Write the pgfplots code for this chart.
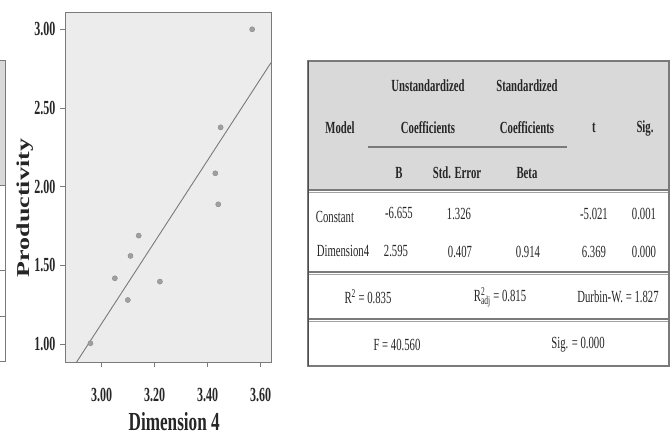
\documentclass[border=0pt]{standalone}
\usepackage{fontspec}
\setmainfont{Liberation Serif}[FakeStretch=0.66]
\newfontfamily\ylabfont{Liberation Serif}
\newfontfamily\tickfont{Liberation Serif}[FakeStretch=0.6]
\newfontfamily\tabfont{Liberation Serif}[FakeStretch=0.63]
\usepackage{graphicx}
\usepackage{pgfplots}
\pgfplotsset{compat=1.18}
\definecolor{plotbg}{HTML}{ECECEC}
\definecolor{hdrbg}{HTML}{D9D9D9}
\definecolor{ptc}{HTML}{A0A0A0}
\definecolor{frm}{HTML}{7A7A7A}
\newcommand{\tf}{\tabfont\fontsize{17}{19}\selectfont}
\begin{document}
\begin{tikzpicture}[x=1pt,y=1pt]
\useasboundingbox (0,0) rectangle (671,441);
% partial table at the left edge
\fill[hdrbg] (-2,380) rectangle (5,255);
\draw[frm, line width=1pt] (-2,380) -- (5,380) -- (5,79) -- (-2,79);
\draw[frm, line width=1pt] (-2,255) -- (5,255);
\draw[frm, line width=1pt] (-2,170) -- (5,170);
\draw[frm, line width=1pt] (-2,124) -- (5,124);
\begin{axis}[
  at={(65pt,79pt)}, anchor=south west, scale only axis,
  width=206pt, height=350pt,
  xmin=2.862, xmax=3.639, ymin=0.886, ymax=3.11,
  axis background/.style={fill=plotbg},
  axis line style={frm, line width=0.8pt},
  xtick={3.0,3.2,3.4,3.6}, xticklabels={3.00,3.20,3.40,3.60},
  ytick={1,1.5,2,2.5,3}, yticklabels={1.00,1.50,2.00,2.50,3.00},
  tick align=outside, major tick length=5pt,
  tick style={frm, line width=0.8pt},
  xtick pos=bottom, ytick pos=left,
  ticklabel style={font=\tickfont\fontsize{20}{22}\selectfont\bfseries, text=black!85},
  xticklabel style={yshift=-18pt},
  yticklabel style={xshift=-1pt},
  xlabel={Dimension 4},
  xlabel style={font=\fontsize{26}{28}\selectfont\bfseries, text=black!85, at={(axis description cs:0.53,-0.171)}, anchor=center},
  ylabel={\scalebox{1}[0.7]{Productivity}},
  ylabel style={font=\ylabfont\fontsize{26}{28}\selectfont\bfseries, text=black!85, at={(axis description cs:-0.195,0.44)}, anchor=center},
]
\addplot[only marks, mark=*, mark size=2.6pt, mark options={fill=ptc, draw=ptc!80!black, line width=0.3pt}] coordinates {
(3.568,3.00) (3.449,2.377) (3.429,2.085) (3.440,1.888) (3.140,1.689)
(3.109,1.560) (3.050,1.418) (3.099,1.280) (3.220,1.397) (2.958,1.005)
};
\addplot[frm, line width=0.9pt] coordinates {(2.862,0.772) (3.639,2.788)};
\end{axis}
% regression table
\fill[hdrbg] (308,380) rectangle (669,251);
\draw[frm, line width=1.6pt] (308,251) -- (669,251);
\draw[frm!70, line width=0.6pt] (308,248.5) -- (669,248.5);
\draw[frm, line width=1.6pt] (308,169) -- (669,169);
\draw[frm!70, line width=0.6pt] (308,166.5) -- (669,166.5);
\draw[frm, line width=1.6pt] (308,122) -- (669,122);
\draw[frm!70, line width=0.6pt] (308,119.5) -- (669,119.5);
\draw[frm, line width=2pt] (368,294) -- (567,294);
\draw[frm, line width=1.4pt] (308,380) rectangle (669,75);
\draw[black!70, line width=1.2pt] (308.5,380) -- (308.5,75);
\begin{scope}[every node/.style={font=\tf\bfseries, text=black!85, inner sep=0pt}]
\node at (428,355) {Unstandardized};
\node at (527,355) {Standardized};
\node at (340,313) {Model};
\node at (428,313) {Coefficients};
\node at (527,313) {Coefficients};
\node at (594,313) {t};
\node at (645,313) {Sig.};
\node at (399,268) {B};
\node at (457,268) {Std. Error};
\node at (527,268) {Beta};
\end{scope}
\begin{scope}[every node/.style={font=\tf, text=black!85, inner sep=0pt}]
\node at (335,224) {Constant};
\node at (399,228) {-6.655};
\node at (459,227) {1.326};
\node at (594,227) {-5.021};
\node at (644,227) {0.001};
\node at (343,190) {Dimension4};
\node at (396,190) {2.595};
\node at (460,189) {0.407};
\node at (528,189) {0.914};
\node at (594,189) {6.369};
\node at (644,189) {0.000};
\node at (368,144) {R\textsuperscript{2} = 0.835};
\node at (500,144) {R\rlap{\textsuperscript{2}}\textsubscript{adj} = 0.815};
\node at (618,144) {Durbin-W. = 1.827};
\node at (397,96) {F = 40.560};
\node at (578,96) {Sig. = 0.000};
\end{scope}
\end{tikzpicture}
\end{document}
